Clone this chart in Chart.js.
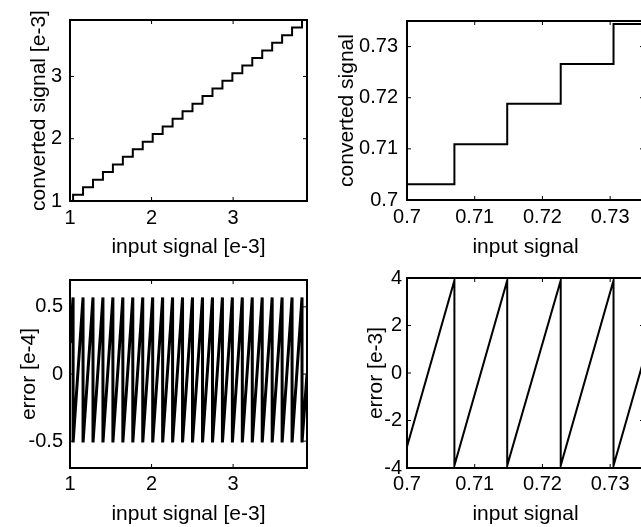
<!DOCTYPE html>
<html>
<head>
<meta charset="utf-8">
<script src="https://cdn.jsdelivr.net/npm/chart.js@4/dist/chart.umd.min.js"></script>
<style>
  html, body { margin: 0; padding: 0; background: #fff; overflow: hidden; width: 641px; height: 527px; }
  canvas { position: absolute; }
</style>
</head>
<body>
<canvas id="convCoarse" width="320" height="260" style="left:0;top:0"></canvas>
<canvas id="convFine" width="330" height="260" style="left:320px;top:0"></canvas>
<canvas id="errCoarse" width="320" height="267" style="left:0;top:260px"></canvas>
<canvas id="errFine" width="330" height="267" style="left:320px;top:260px"></canvas>
<script>
// small input range, values in e-3 (output jumps at each x)
const coarseIn = [1.000, 1.038, 1.160, 1.282, 1.404, 1.526, 1.648, 1.770, 1.892, 2.014, 2.136, 2.258, 2.380,
                  2.502, 2.625, 2.747, 2.869, 2.991, 3.113, 3.235, 3.357, 3.479, 3.601, 3.723, 3.845, 3.906];
const coarseOut = [0.977, 1.099, 1.221, 1.343, 1.465, 1.587, 1.709, 1.831, 1.953, 2.075, 2.197, 2.319, 2.441,
                   2.563, 2.686, 2.808, 2.930, 3.052, 3.174, 3.296, 3.418, 3.540, 3.662, 3.784, 3.906, 3.906];

// error for the small range, x in e-3, error in e-4
const coarseErrIn = [1.000,
  1.038, 1.038, 1.160, 1.160, 1.282, 1.282, 1.404, 1.404, 1.526, 1.526, 1.648, 1.648,
  1.770, 1.770, 1.892, 1.892, 2.014, 2.014, 2.136, 2.136, 2.258, 2.258, 2.380, 2.380,
  2.502, 2.502, 2.625, 2.625, 2.747, 2.747, 2.869, 2.869, 2.991, 2.991, 3.113, 3.113,
  3.235, 3.235, 3.357, 3.357, 3.479, 3.479, 3.601, 3.601, 3.723, 3.723, 3.845, 3.845,
  3.906];
const coarseErr = [0.23,
  0.57, -0.51, 0.57, -0.51, 0.57, -0.51, 0.57, -0.51, 0.57, -0.51, 0.57, -0.51,
  0.57, -0.51, 0.57, -0.51, 0.57, -0.51, 0.57, -0.51, 0.57, -0.51, 0.57, -0.51,
  0.57, -0.51, 0.57, -0.51, 0.57, -0.51, 0.57, -0.51, 0.57, -0.51, 0.57, -0.51,
  0.57, -0.51, 0.57, -0.51, 0.57, -0.51, 0.57, -0.51, 0.57, -0.51, 0.57, -0.51,
  0.00];

// large input range
const fineIn = [0.7000, 0.7070, 0.7148, 0.7227, 0.7305, 0.7350];
const fineOut = [0.7031, 0.7109, 0.7188, 0.7266, 0.7344, 0.7344];

// error for the large range, error in e-3
const fineErrIn = [0.7000, 0.7070, 0.7070, 0.7148, 0.7148, 0.7227, 0.7227, 0.7305, 0.7305, 0.7350];
const fineErr = [-3.1, 3.9, -3.9, 3.9, -3.9, 3.9, -3.9, 3.9, -3.9, 0.6];

// tick labels
const coarseTicks = [1, 2, 3];
const fineTicks = [0.7, 0.71, 0.72, 0.73];
const coarseErrTicks = [-0.5, 0, 0.5];
const fineErrTicks = [-4, -2, 0, 2, 4];

const fontFamily = '"Liberation Sans", Arial, Helvetica, sans-serif';
const tickFont = { family: fontFamily, size: 20 };
const titleFont = { family: fontFamily, size: 21 };

// box around the plot area with small inward ticks (matlab style)
const boxPlugin = {
  id: 'box',
  afterDatasetsDraw(chart) {
    const ctx = chart.ctx, a = chart.chartArea;
    const sx = chart.scales.x, sy = chart.scales.y;
    function seg(x1, y1, x2, y2) {
      ctx.beginPath(); ctx.moveTo(x1, y1); ctx.lineTo(x2, y2); ctx.stroke();
    }
    ctx.save();
    ctx.strokeStyle = '#000';
    ctx.lineWidth = 1;
    sx.ticks.forEach(t => {
      const p = sx.getPixelForValue(t.value);
      seg(p, a.bottom, p, a.bottom - 4);
      seg(p, a.top, p, a.top + 4);
    });
    sy.ticks.forEach(t => {
      const p = sy.getPixelForValue(t.value);
      seg(a.left, p, a.left + 4, p);
      seg(a.right, p, a.right - 4, p);
    });
    ctx.lineWidth = 2;
    ctx.strokeRect(a.left, a.top, a.right - a.left, a.bottom - a.top);
    ctx.restore();
  }
};

function axis(isX, range, tickVals, title, tickPad, titlePad, size) {
  return {
    type: 'linear',
    position: isX ? 'bottom' : 'left',
    min: range[0],
    max: range[1],
    grid: { display: false, drawTicks: false },
    border: { display: false },
    afterBuildTicks: (s) => { s.ticks = tickVals.map(v => ({ value: v })); },
    afterFit: (s) => { if (isX) s.height = size; else s.width = size; },
    ticks: {
      color: '#000', font: tickFont, padding: tickPad,
      autoSkip: false, maxRotation: 0, minRotation: 0,
      callback: (v) => String(v)
    },
    title: { display: true, text: title, color: '#000', font: titleFont, padding: { top: titlePad, bottom: 0 } }
  };
}

function makePlot(id, xs, ys, stepped, lw, pad, xAxis, yAxis) {
  const pts = xs.map((x, i) => ({ x: x, y: ys[i] }));
  return new Chart(document.getElementById(id), {
    type: 'line',
    data: {
      datasets: [{
        data: pts,
        borderColor: '#000',
        borderWidth: lw,
        pointRadius: 0,
        tension: 0,
        fill: false,
        stepped: stepped
      }]
    },
    plugins: [boxPlugin],
    options: {
      responsive: false,
      animation: false,
      parsing: false,
      plugins: { legend: { display: false }, tooltip: { enabled: false } },
      layout: { padding: pad },
      scales: { x: xAxis, y: yAxis }
    }
  });
}

makePlot('convCoarse', coarseIn, coarseOut, 'before', 2,
  { left: 0, top: 6, right: 13, bottom: 0 },
  axis(true, [1, 3.906], coarseTicks, 'input signal [e-3]', 5, 3, 59),
  axis(false, [1, 3.906], coarseTicks, 'converted signal [e-3]', 8, 27, 70));

makePlot('convFine', fineIn, fineOut, 'before', 2,
  { left: 0, top: 7, right: 6, bottom: 0 },
  axis(true, [0.7, 0.735], fineTicks, 'input signal', 5, 5, 60),
  axis(false, [0.7, 0.735], fineTicks, 'converted signal', 9, 15, 87));

makePlot('errCoarse', coarseErrIn, coarseErr, false, 3,
  { left: 0, top: 20, right: 13, bottom: 0 },
  axis(true, [1, 3.906], coarseTicks, 'input signal [e-3]', 4, 6, 59),
  axis(false, [-0.7, 0.7], coarseErrTicks, 'error [e-4]', 7, 17, 70));

makePlot('errFine', fineErrIn, fineErr, false, 2,
  { left: 0, top: 18, right: 6, bottom: 0 },
  axis(true, [0.7, 0.735], fineTicks, 'input signal', 4, 7, 59),
  axis(false, [-4, 4], fineErrTicks, 'error [e-3]', 5, 44, 87));
</script>
</body>
</html>
